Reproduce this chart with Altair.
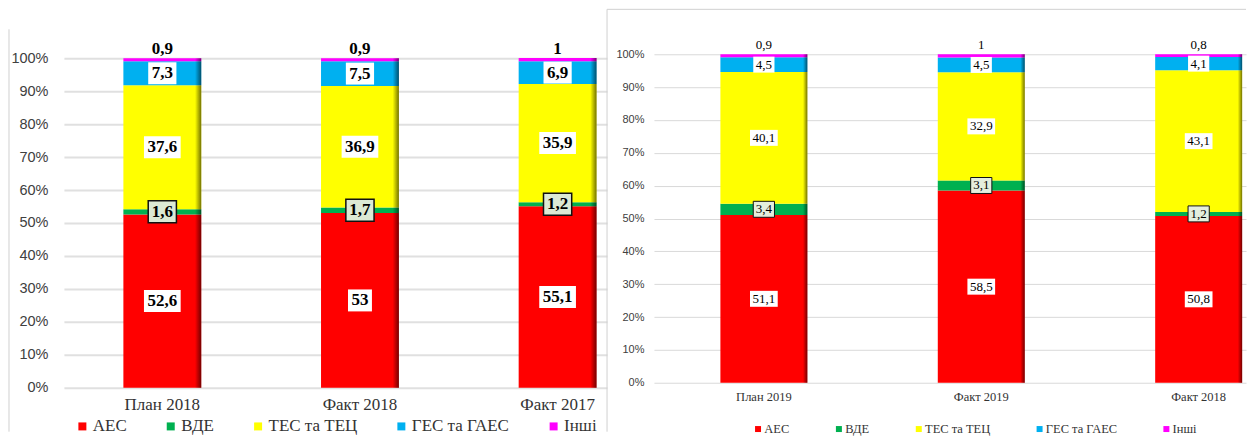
import altair as alt
import pandas as pd

series = ["АЕС", "ВДЕ", "ТЕС та ТЕЦ", "ГЕС та ГАЕС", "Інші"]
colors = ["#FF0000", "#00B050", "#FFFF00", "#00B0F0", "#FF00FF"]

left_cats = ["План 2018", "Факт 2018", "Факт 2017"]
left_aes = [52.6, 53, 55.1]
left_vde = [1.6, 1.7, 1.2]
left_tes = [37.6, 36.9, 35.9]
left_ges = [7.3, 7.5, 6.9]
left_other = [0.9, 0.9, 1]

right_cats = ["План 2019", "Факт  2019", "Факт  2018"]
right_aes = [51.1, 58.5, 50.8]
right_vde = [3.4, 3.1, 1.2]
right_tes = [40.1, 32.9, 43.1]
right_ges = [4.5, 4.5, 4.1]
right_other = [0.9, 1, 0.8]

pct_ticks = [0, 10, 20, 30, 40, 50, 60, 70, 80, 90, 100]

SERIF = "Liberation Serif"
SANS = "Liberation Sans"


def make_df(cats, cols):
    rows = []
    for i, c in enumerate(cats):
        for j, s in enumerate(series):
            v = cols[j][i]
            rows.append({"cat": c, "series": s, "ord": j, "value": v,
                         "label": f"{v:g}".replace(".", ",")})
    return pd.DataFrame(rows)


def panel(df, cats, W, H, yrange, pi, po, align, bold, fs, tick_fs, cat_fs,
          leg_fs, grid_w, grid_c, box_h, char_w, pad, edge, legend_x, legend_y,
          col_pad, lab_off, sym_size, x_lab_pad, y_lab_pad, top_dy, box_fill,
          box_stroke_w, frames):
    xaxis = alt.Axis(title=None, labelAngle=0, domain=False, ticks=False, grid=False,
                     labelFont=SERIF, labelFontSize=cat_fs,
                     labelColor="#333333", labelPadding=x_lab_pad)
    xs = alt.Scale(paddingInner=pi, paddingOuter=po, align=align)
    x = alt.X("cat:N", sort=cats, scale=xs, axis=xaxis)
    yaxis = alt.Axis(title=None, values=pct_ticks, labelExpr="datum.value + '%'",
                     domain=False, ticks=False, grid=True, gridColor=grid_c,
                     gridWidth=grid_w, labelFont=SANS,
                     labelFontSize=tick_fs, labelColor="#404040",
                     labelPadding=y_lab_pad)
    if yrange is None:
        ys = alt.Scale(domain=[0, 100], nice=False)
    else:
        ys = alt.Scale(domain=[0, 100], nice=False, range=yrange)

    def yenc(field, stack=None):
        if stack:
            return alt.Y(field, stack=stack, scale=ys, axis=yaxis)
        return alt.Y(field, scale=ys, axis=yaxis)

    base = alt.Chart(df)
    bars = base.mark_bar(strokeWidth=0).encode(
        x=x,
        y=yenc("value:Q", "zero"),
        color=alt.Color("series:N", sort=series,
                        scale=alt.Scale(domain=series, range=colors),
                        legend=alt.Legend(orient="none", legendX=legend_x,
                                          legendY=legend_y, direction="horizontal",
                                          columns=5, title=None, symbolType="square",
                                          symbolSize=sym_size, symbolStrokeWidth=0,
                                          labelFont=SERIF,
                                          labelFontSize=leg_fs, labelColor="#333333",
                                          columnPadding=col_pad, labelOffset=lab_off,
                                          padding=0)),
        order=alt.Order("ord:Q"),
    )
    shade = base.mark_bar(
        strokeWidth=0,
        fill=alt.Gradient(gradient="linear", x1=0, x2=1, y1=0, y2=0, stops=[
            alt.GradientStop(offset=0, color="rgba(0,0,0,0)"),
            alt.GradientStop(offset=edge, color="rgba(0,0,0,0)"),
            alt.GradientStop(offset=1, color="rgba(0,0,0,0.55)"),
        ])
    ).encode(x=x, y=yenc("value:Q", "zero"), detail="series:N", order=alt.Order("ord:Q"))

    stacked = base.transform_stack(
        stack="value", groupby=["cat"], sort=[alt.SortField("ord")], as_=["y0", "y1"]
    ).transform_calculate(mid="(datum.y0 + datum.y1) / 2")
    inner = stacked.transform_filter("datum.ord < 4")
    # box path: -1..1 maps to bw px wide, half-height ratio = box_h / bw
    boxes = inner.transform_calculate(
        nc="indexof(datum.label, ',') >= 0 ? 1 : 0"
    ).transform_calculate(
        bw=f"{char_w} * (length(datum.label) - datum.nc) + {char_w / 2} * datum.nc + {pad}"
    ).transform_calculate(
        shp=f"'M-1,-' + ({box_h} / datum.bw) + 'H1V' + ({box_h} / datum.bw) + 'H-1Z'",
        sz="datum.bw * datum.bw",
    )
    white_boxes = boxes.transform_filter("datum.ord != 1").mark_point(
        filled=True, fill="white", opacity=1, strokeWidth=0
    ).encode(x=x, y=yenc("mid:Q"), shape=alt.Shape("shp:N", scale=None, legend=None),
             size=alt.Size("sz:Q", scale=None, legend=None))
    vde_boxes = boxes.transform_filter("datum.ord == 1").mark_point(
        filled=True, fill=box_fill, stroke="#111111", strokeWidth=box_stroke_w, opacity=1
    ).encode(x=x, y=yenc("mid:Q"), shape=alt.Shape("shp:N", scale=None, legend=None),
             size=alt.Size("sz:Q", scale=None, legend=None))
    weight = "bold" if bold else "normal"
    texts = inner.mark_text(font=SERIF, fontWeight=weight, fontSize=fs,
                            color="black", baseline="middle").encode(
        x=x, y=yenc("mid:Q"), text="label:N")
    top = stacked.transform_filter("datum.ord == 4").mark_text(
        font=SERIF, fontWeight=weight, fontSize=fs, color="black",
        baseline="alphabetic", dy=top_dy).encode(x=x, y=yenc("y1:Q"), text="label:N")

    one = pd.DataFrame({"a": [0]})
    layers = [bars, shade, white_boxes, vde_boxes, texts, top]
    for fr in frames:
        layers.append(alt.Chart(one).mark_rule(color="#D0D0D0", strokeWidth=1).encode(**fr))
    return alt.layer(*layers).properties(width=W, height=H)


left_df = make_df(left_cats, [left_aes, left_vde, left_tes, left_ges, left_other])
right_df = make_df(right_cats, [right_aes, right_vde, right_tes, right_ges, right_other])

left = panel(left_df, left_cats, W=544, H=334, yrange=[334, 4], pi=0.606, po=0.177,
             align=0.85, bold=True, fs=17, tick_fs=14.5, cat_fs=17, leg_fs=17,
             grid_w=2, grid_c="#E0E0E0", box_h=22, char_w=8.5, pad=7, edge=0.92,
             legend_x=10, legend_y=364, col_pad=35.5, lab_off=2, sym_size=64,
             x_lab_pad=9, y_lab_pad=16, top_dy=-4, box_fill="#DCE9D4",
             box_stroke_w=1.5,
             frames=[dict(x=alt.value(-55), y=alt.value(-25), y2=alt.value(378))])

right = panel(right_df, right_cats, W=593, H=329, yrange=None, pi=0.6, po=0.1617,
              align=0.945, bold=False, fs=13, tick_fs=11, cat_fs=12.5, leg_fs=12.5,
              grid_w=1, grid_c="#D9D9D9", box_h=16, char_w=6.5, pad=5, edge=0.95,
              legend_x=98, legend_y=369, col_pad=43, lab_off=0, sym_size=36,
              x_lab_pad=8, y_lab_pad=10, top_dy=-5, box_fill="#E4EEDD",
              box_stroke_w=1,
              frames=[dict(x=alt.value(-47), y=alt.value(-45), y2=alt.value(378)),
                      dict(x=alt.value(-47), x2=alt.value(593), y=alt.value(-45))])

chart = alt.hconcat(left, right, spacing=47, bounds="flush").resolve_scale(
    color="independent"
).properties(padding=0, background="white").configure(
    font=SERIF
).configure_view(
    stroke=None
).configure_legend(labelFont=SERIF, titleFont=SERIF)

chart.save("out.html", embed_options={"renderer": "svg", "actions": False})
